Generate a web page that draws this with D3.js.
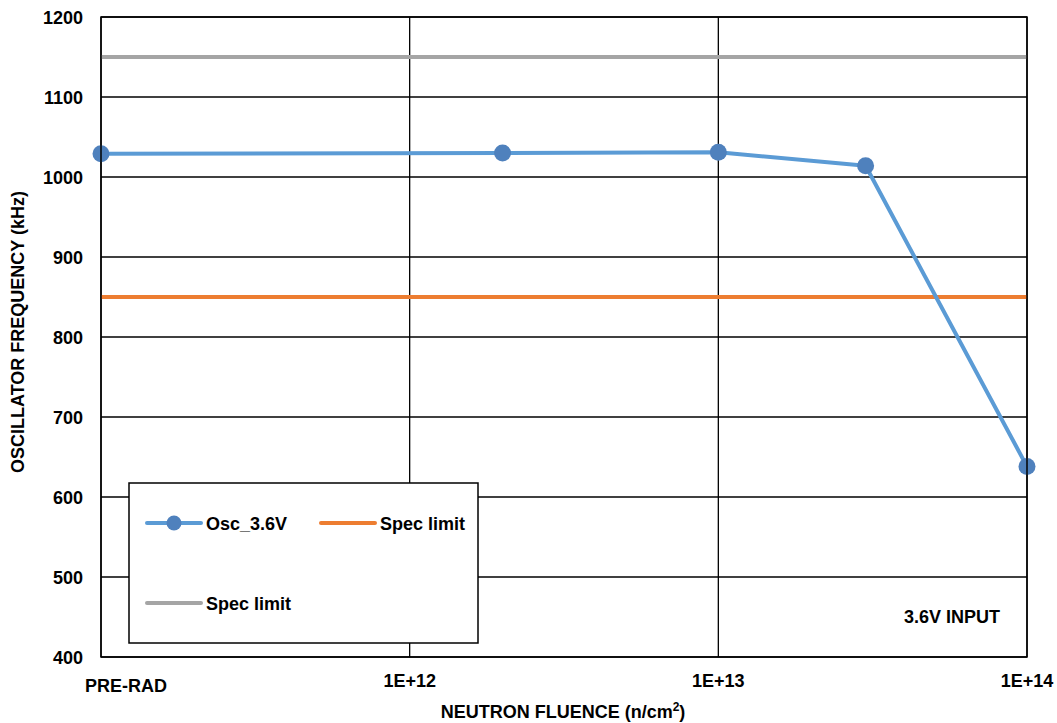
<!DOCTYPE html>
<html><head><meta charset="utf-8">
<script src="https://cdn.jsdelivr.net/npm/d3@7"></script>
<style>body{margin:0;background:#fff}svg{display:block;font-family:"Liberation Sans",Arial,sans-serif;font-weight:bold}</style>
</head><body>
<svg id="c" width="1057" height="723"></svg>
<script>
const fluence = [1e11, 2e12, 1e13, 3e13, 1e14];
const oscFreq = [1029, 1030, 1031, 1014, 638];
const specLow = 850;
const specHigh = 1150;
const xTickValues = [1e11, 1e12, 1e13, 1e14];
const xTickLabels = ["PRE-RAD", "1E+12", "1E+13", "1E+14"];
const yTicks = [400, 500, 600, 700, 800, 900, 1000, 1100, 1200];

const FS = 18;
const svg = d3.select("#c");
const L = 101, R = 1027, T = 17, B = 657;
const x = d3.scaleLog().domain([1e11, 1e14]).range([L, R]);
const y = d3.scaleLinear().domain([400, 1200]).range([B, T]);

// horizontal gridlines
svg.append("g").selectAll("line").data(yTicks).join("line")
  .attr("x1", L).attr("x2", R).attr("y1", d => y(d)).attr("y2", d => y(d))
  .attr("stroke", "#000").attr("stroke-width", 1.3);
// vertical gridlines
svg.append("g").selectAll("line").data(xTickValues).join("line")
  .attr("x1", d => x(d)).attr("x2", d => x(d)).attr("y1", T).attr("y2", B)
  .attr("stroke", "#000").attr("stroke-width", 1.3);

// y labels
svg.append("g").selectAll("text").data(yTicks).join("text")
  .attr("x", 83).attr("y", d => y(d) + 6.5)
  .attr("text-anchor", "end").attr("font-size", FS).text(d => d);
// x labels
svg.append("g").selectAll("text").data(xTickValues).join("text")
  .attr("x", (d, i) => i === 0 ? 85 : x(d)).attr("y", (d, i) => i === 0 ? 692 : 687)
  .attr("text-anchor", (d, i) => i === 0 ? "start" : "middle")
  .attr("font-size", FS).text((d, i) => xTickLabels[i]);

// axis titles
const xt = svg.append("text").attr("x", 563).attr("y", 718).attr("text-anchor", "middle").attr("font-size", FS);
xt.append("tspan").text("NEUTRON FLUENCE (n/cm");
xt.append("tspan").attr("font-size", 12).attr("dy", -7).text("2");
xt.append("tspan").attr("dy", 7).text(")");
svg.append("text").attr("transform", "translate(24,332) rotate(-90)")
  .attr("text-anchor", "middle").attr("font-size", FS).text("OSCILLATOR FREQUENCY (kHz)");

// spec lines
svg.append("line").attr("x1", L).attr("x2", R).attr("y1", y(specHigh)).attr("y2", y(specHigh))
  .attr("stroke", "#A5A5A5").attr("stroke-width", 4);
svg.append("line").attr("x1", L).attr("x2", R).attr("y1", y(specLow)).attr("y2", y(specLow))
  .attr("stroke", "#ED7D31").attr("stroke-width", 4);

// data line
const pts = fluence.map((f, i) => [f, oscFreq[i]]);
svg.append("path").datum(pts)
  .attr("d", d3.line().x(d => x(d[0])).y(d => y(d[1])))
  .attr("fill", "none").attr("stroke", "#5B9BD5").attr("stroke-width", 4).attr("stroke-linejoin", "round");
svg.append("g").selectAll("circle").data(pts).join("circle")
  .attr("cx", d => x(d[0])).attr("cy", d => y(d[1])).attr("r", 8.5).attr("fill", "#4F81BD");

// border
svg.append("rect").attr("x", L).attr("y", T).attr("width", R - L).attr("height", B - T)
  .attr("fill", "none").attr("stroke", "#000").attr("stroke-width", 1.5);

// legend
const lg = svg.append("g");
lg.append("rect").attr("x", 129).attr("y", 483).attr("width", 349).attr("height", 160)
  .attr("fill", "#fff").attr("stroke", "#000").attr("stroke-width", 1.5);
const items = [
  {x: 147, y: 523, c: "#5B9BD5", m: true, t: "Osc_3.6V"},
  {x: 321, y: 523, c: "#ED7D31", m: false, t: "Spec limit"},
  {x: 147, y: 603, c: "#A5A5A5", m: false, t: "Spec limit"}
];
items.forEach(it => {
  lg.append("line").attr("x1", it.x).attr("x2", it.x + 54).attr("y1", it.y).attr("y2", it.y)
    .attr("stroke", it.c).attr("stroke-width", 4).attr("stroke-linecap", "round");
  if (it.m) lg.append("circle").attr("cx", it.x + 27).attr("cy", it.y).attr("r", 7.5).attr("fill", "#4F81BD");
  lg.append("text").attr("x", it.x + 59).attr("y", it.y + 6.5).attr("font-size", FS).text(it.t);
});

svg.append("text").attr("x", 1000).attr("y", 623).attr("text-anchor", "end")
  .attr("font-size", FS).text("3.6V INPUT");
</script>
</body></html>
